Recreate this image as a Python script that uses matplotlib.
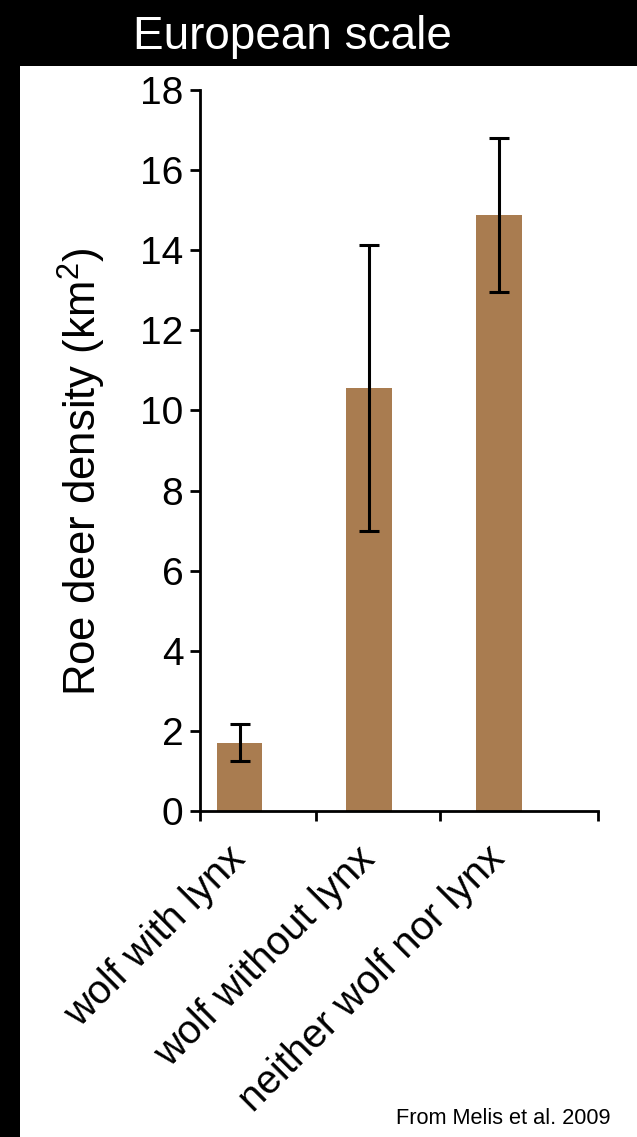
import numpy as np
import matplotlib
matplotlib.use('Agg')
import matplotlib.pyplot as plt
from matplotlib.patches import Rectangle

# values (Melis et al. 2009)
groups = ['wolf with lynx', 'wolf without lynx', 'neither wolf nor lynx']
density = [1.71, 10.56, 14.88]
err = [0.46, 3.57, 1.92]
yticks = np.arange(0, 19, 2)

plt.rcParams['font.family'] = ['Liberation Sans', 'DejaVu Sans']
plt.rcParams['mathtext.default'] = 'regular'

W, H = 637, 1137
fig = plt.figure(figsize=(W / 100, H / 100), dpi=100, facecolor='black')

# white panel under the chart
fig.patches.append(Rectangle((20 / W, 0), 1 - 20 / W, (H - 66) / H,
                             transform=fig.transFigure, facecolor='white',
                             edgecolor='none', zorder=-10))

ax = fig.add_axes([200 / W, 1 - 811 / H, 398 / W, 721 / H])
ax.set_facecolor('none')

x = np.arange(len(groups))
ax.bar(x, density, width=0.355, color='#A97C50', zorder=2)
ax.errorbar(x, density, yerr=err, fmt='none', ecolor='black',
            elinewidth=2.2, capsize=7, capthick=2.2, zorder=3)

ax.set_xlim(-0.305, 2.768)
ax.set_ylim(0, 18)
ax.set_yticks(yticks)
ax.tick_params(axis='y', labelsize=28, length=7, width=2, pad=5, direction='out')

ax.set_xticks(x)
ax.set_xticklabels(groups, rotation=45, ha='right', va='center',
                   rotation_mode='anchor', fontsize=29)
ax.tick_params(axis='x', which='major', length=0, pad=30)
ax.set_xticks([-0.305, 0.591, 1.548, 2.768], minor=True)
ax.tick_params(axis='x', which='minor', length=7, width=2, direction='out')

for s in ['top', 'right']:
    ax.spines[s].set_visible(False)
for s in ['left', 'bottom']:
    ax.spines[s].set_linewidth(2)

ax.set_ylabel('Roe deer density (km$^2$)', fontsize=31.5)
ax.yaxis.set_label_coords(-0.23, 0.47)

fig.text(292 / W, 1 - 49 / H, 'European scale', color='white', fontsize=33,
         ha='center', va='baseline')
fig.text(610 / W, 1 - 1124 / H, 'From Melis et al. 2009', color='black',
         fontsize=15.7, ha='right', va='baseline')

fig.savefig('out.png', dpi=100, facecolor='black')
